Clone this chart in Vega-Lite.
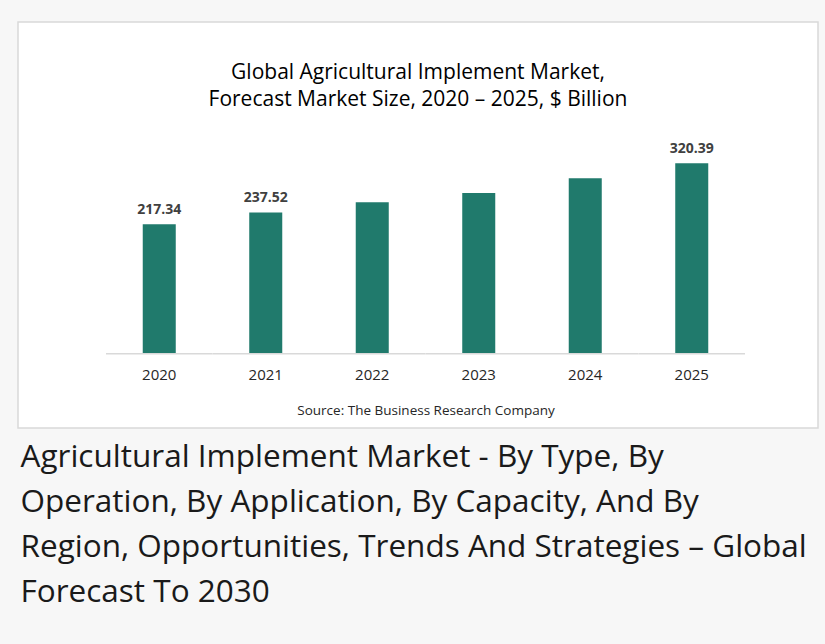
{
  "$schema": "https://vega.github.io/schema/vega-lite/v6.json",
  "width": 800,
  "height": 406,
  "autosize": {"type": "none"},
  "padding": {"left": 18, "top": 22, "right": 7, "bottom": 216},
  "background": "#f7f7f7",
  "config": {
    "view": {"fill": "#ffffff", "stroke": "#d9d9d9", "strokeWidth": 1.5},
    "font": "Open Sans"
  },
  "title": {
    "text": ["Global Agricultural Implement Market,", "Forecast Market Size, 2020 – 2025, $ Billion"],
    "fontSize": 21,
    "fontWeight": "normal",
    "lineHeight": 27.5,
    "color": "#000000",
    "anchor": "middle",
    "baseline": "top",
    "offset": 0,
    "dy": 88,
    "font": "Open Sans"
  },
  "data": {
    "values": [
      {"year": "2020", "value": 217.34, "label": "217.34"},
      {"year": "2021", "value": 237.52, "label": "237.52"},
      {"year": "2022", "value": 254.5, "label": ""},
      {"year": "2023", "value": 270.2, "label": ""},
      {"year": "2024", "value": 295.1, "label": ""},
      {"year": "2025", "value": 320.39, "label": "320.39"}
    ]
  },
  "layer": [
    {
      "mark": {"type": "bar", "color": "#d9d9d9"},
      "encoding": {
        "x": {
          "field": "year",
          "type": "nominal",
          "scale": {"paddingInner": 0, "paddingOuter": 0, "range": [88, 727]},
          "axis": {
            "orient": "bottom",
            "labels": false,
            "ticks": false,
            "domain": false,
            "offset": 0,
            "title": [
              "Agricultural Implement Market - By Type, By",
              "Operation, By Application, By Capacity, And By",
              "Region, Opportunities, Trends And Strategies – Global",
              "Forecast To 2030"
            ],
            "titleFontSize": 31.5,
            "titleFontWeight": "normal",
            "titleLineHeight": 45,
            "titleColor": "#1a1a1a",
            "titleX": 2,
            "titleAlign": "left",
            "titleBaseline": "top",
            "titlePadding": 13
          }
        },
        "y": {
          "datum": 0,
          "type": "quantitative",
          "scale": {"domain": [-126.7, 559.1], "nice": false, "zero": false},
          "axis": null
        },
        "y2": {"datum": -2.5}
      }
    },
    {
      "layer": [
        {
          "mark": {"type": "bar", "color": "#207a6c"},
          "encoding": {
            "y2": {"datum": 0}
          }
        },
        {
          "mark": {
            "type": "text",
            "baseline": "alphabetic",
            "dy": -10,
            "fontSize": 14,
            "fontWeight": "bold",
            "color": "#404040"
          },
          "encoding": {
            "text": {"field": "label"}
          }
        }
      ],
      "encoding": {
        "x": {
          "field": "year",
          "type": "nominal",
          "scale": {"paddingInner": 0.69, "paddingOuter": 0.345, "range": [88, 727]},
          "axis": {
            "orient": "bottom",
            "offset": -75,
            "domain": false,
            "ticks": false,
            "labelPadding": 14,
            "labelFontSize": 15,
            "labelColor": "#262626",
            "labelAngle": 0,
            "title": "Source: The Business Research Company",
            "titleFontSize": 13.5,
            "titleFontWeight": "normal",
            "titleColor": "#262626",
            "titlePadding": 21
          }
        },
        "y": {
          "field": "value",
          "type": "quantitative",
          "scale": {"domain": [-126.7, 559.1], "nice": false, "zero": false},
          "axis": null
        }
      }
    }
  ],
  "resolve": {"scale": {"x": "independent"}, "axis": {"x": "independent"}}
}
